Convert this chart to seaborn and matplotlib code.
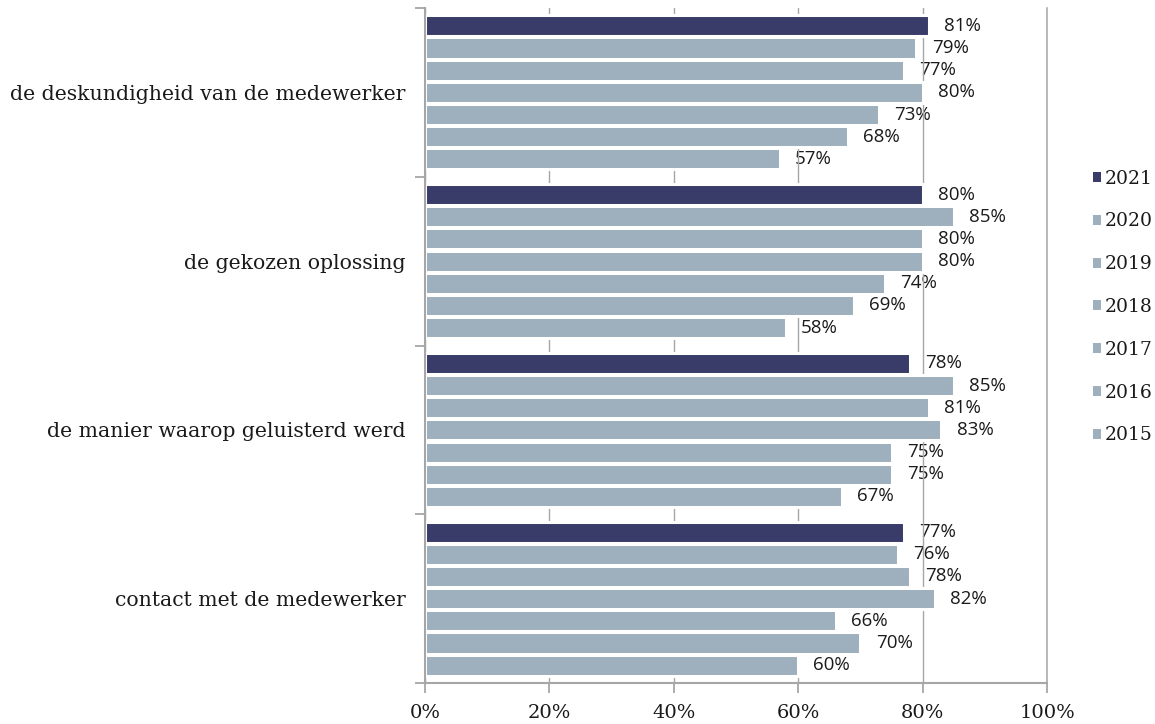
import matplotlib
matplotlib.use("Agg")
import matplotlib.pyplot as plt
import seaborn as sns
import pandas as pd
from matplotlib.ticker import FixedLocator

categories = [
    "de deskundigheid van de medewerker",
    "de gekozen oplossing",
    "de manier waarop geluisterd werd",
    "contact met de medewerker",
]
years = ["2021", "2020", "2019", "2018", "2017", "2016", "2015"]
deskundigheid = [81, 79, 77, 80, 73, 68, 57]
oplossing = [80, 85, 80, 80, 74, 69, 58]
geluisterd = [78, 85, 81, 83, 75, 75, 67]
contact = [77, 76, 78, 82, 66, 70, 60]
x_ticks = [0, 20, 40, 60, 80, 100]
x_tick_labels = ["0%", "20%", "40%", "60%", "80%", "100%"]

rows = []
for cat, vals in zip(categories, [deskundigheid, oplossing, geluisterd, contact]):
    for yr, v in zip(years, vals):
        rows.append({"categorie": cat, "jaar": yr, "waarde": v})
df = pd.DataFrame(rows)

dark = "#393c68"
light = "#9eafbd"
palette = {yr: (dark if yr == "2021" else light) for yr in years}

sns.set_theme(style="white")
plt.rcParams["font.family"] = ["DejaVu Serif"]

fig = plt.figure(figsize=(11.55, 7.24), dpi=100)
ax = fig.add_axes([425 / 1155, 1 - 683 / 724, (1047 - 425) / 1155, (683 - 8) / 724])

sns.barplot(
    data=df, y="categorie", x="waarde", hue="jaar",
    order=categories, hue_order=years, palette=palette,
    orient="h", width=0.92, gap=0.05, errorbar=None,
    saturation=1, ax=ax, legend=True,
    edgecolor="white", linewidth=2.2,
)

ax.set_xlim(0, 100)
ax.set_ylim(3.5, -0.5)
ax.set_xlabel("")
ax.set_ylabel("")
ax.set_xticks(x_ticks)
ax.set_xticklabels(x_tick_labels, fontsize=14, color="#1a1a1a")
ax.set_yticks(range(len(categories)))
ax.set_yticklabels(categories, fontsize=14.7, color="#1a1a1a")
ax.yaxis.set_minor_locator(FixedLocator([i - 0.5 for i in range(len(categories) + 1)]))

gray = "#a6a6a6"
ax.set_axisbelow(True)
ax.grid(axis="x", color=gray, linewidth=1.0)
ax.grid(axis="y", visible=False)
ax.spines["top"].set_visible(False)
for s in ["left", "bottom"]:
    ax.spines[s].set_color(gray)
    ax.spines[s].set_linewidth(1.5)
ax.spines["right"].set_color(gray)
ax.spines["right"].set_linewidth(1.1)

ax.tick_params(axis="x", which="major", direction="out", length=7, width=1.3,
               color=gray, pad=8, bottom=True)
ax.tick_params(axis="y", which="major", length=0, pad=14, left=True)
ax.tick_params(axis="y", which="minor", direction="out", length=7, width=1.3,
               color=gray, left=True)

for container in ax.containers:
    texts = ax.bar_label(
        container,
        labels=[f"{v:.0f}%" for v in container.datavalues],
        padding=11, fontsize=13.5, family="Open Sans", color="#1a1a1a",
    )
    for t in texts:
        t.set_zorder(0.3)

handles, labels = ax.get_legend_handles_labels()
for h in handles:
    h.set_linewidth(0)
    h.set_edgecolor("none")
ax.get_legend().remove()
fig.legend(
    handles, labels, loc="center left",
    bbox_to_anchor=(1093 / 1155, 1 - 307 / 724),
    frameon=False, fontsize=13.5, borderpad=0, borderaxespad=0,
    handlelength=0.45, handleheight=0.45, handletextpad=0.2,
    labelspacing=1.32,
)
for txt in fig.legends[0].get_texts():
    txt.set_color("#1a1a1a")

fig.savefig("out.png", dpi=100)
